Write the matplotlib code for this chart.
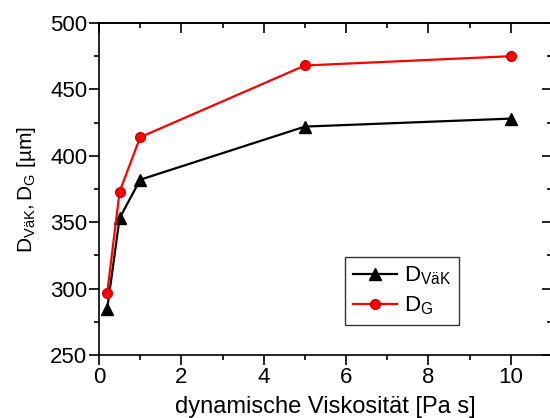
import matplotlib
matplotlib.use("Agg")
import matplotlib.pyplot as plt
from matplotlib.ticker import MultipleLocator, NullFormatter

plt.rcParams['font.family'] = ['Liberation Sans', 'DejaVu Sans']
plt.rcParams['mathtext.fontset'] = 'custom'
plt.rcParams['mathtext.rm'] = 'Liberation Sans'
plt.rcParams['mathtext.it'] = 'Liberation Sans'
plt.rcParams['mathtext.default'] = 'regular'

viscosity = [0.2, 0.5, 1, 5, 10]
d_vaek = [285, 353, 382, 422, 428]
d_g = [297, 373, 414, 468, 475]

fig = plt.figure(figsize=(5.5, 4.18), dpi=100)
W, H = 550, 418
ax = fig.add_axes([99 / W, 1 - 355 / H, 453 / W, 332 / H])

ax.plot(viscosity, d_vaek, color='black', lw=1.6, marker='^', ms=8.5,
        mfc='black', mec='black', label=r'$D_{VäK}$')
ax.plot(viscosity, d_g, color='red', lw=1.6, marker='o', ms=7,
        mfc='red', mec='#d00000', label=r'$D_{G}$')

ax.set_xlim(0, 11)
ax.set_ylim(250, 500)
ax.xaxis.set_major_locator(MultipleLocator(2))
ax.xaxis.set_minor_locator(MultipleLocator(1))
ax.yaxis.set_major_locator(MultipleLocator(50))
ax.yaxis.set_minor_locator(MultipleLocator(25))

for s in ax.spines.values():
    s.set_linewidth(1.2)
ax.spines['right'].set_visible(False)

ax.tick_params(which='both', direction='out', width=1.2, labelsize=16,
               top=False, right=False)
ax.tick_params(which='major', length=7, pad=1.5)
ax.tick_params(which='minor', length=3.5)

# mirrored ticks on top and right, pointing inward
top = ax.secondary_xaxis('top')
top.xaxis.set_major_locator(MultipleLocator(2))
top.xaxis.set_minor_locator(MultipleLocator(1))
top.xaxis.set_major_formatter(NullFormatter())
top.tick_params(which='both', direction='in', width=1.2)
top.tick_params(which='major', length=7)
top.tick_params(which='minor', length=3.5)
top.spines['top'].set_linewidth(1.2)

right = ax.secondary_yaxis('right')
right.yaxis.set_major_locator(MultipleLocator(50))
right.yaxis.set_minor_locator(MultipleLocator(25))
right.yaxis.set_major_formatter(NullFormatter())
right.tick_params(which='both', direction='in', width=1.2)
right.tick_params(which='major', length=7)
right.tick_params(which='minor', length=3.5)
right.spines['right'].set_linewidth(1.2)

ax.set_xlabel('dynamische Viskosität [Pa s]', fontsize=17)
ax.xaxis.set_label_coords(0.5, -0.158, transform=ax.transAxes)
ax.xaxis.label.set_va('center')
ax.set_ylabel(r'$D_{VäK}, D_G$ [µm]', fontsize=15)
ax.yaxis.set_label_coords(-0.16, 0.5, transform=ax.transAxes)
ax.yaxis.label.set_va('center')

leg = ax.legend(loc='lower right', bbox_to_anchor=(0.795, 0.09), fontsize=16,
                frameon=True, fancybox=False, edgecolor='black',
                handlelength=2.0, handletextpad=0.3, borderpad=0.35,
                labelspacing=0.35, borderaxespad=0)
leg.get_frame().set_linewidth(1.0)

fig.savefig('out.png', dpi=100)
